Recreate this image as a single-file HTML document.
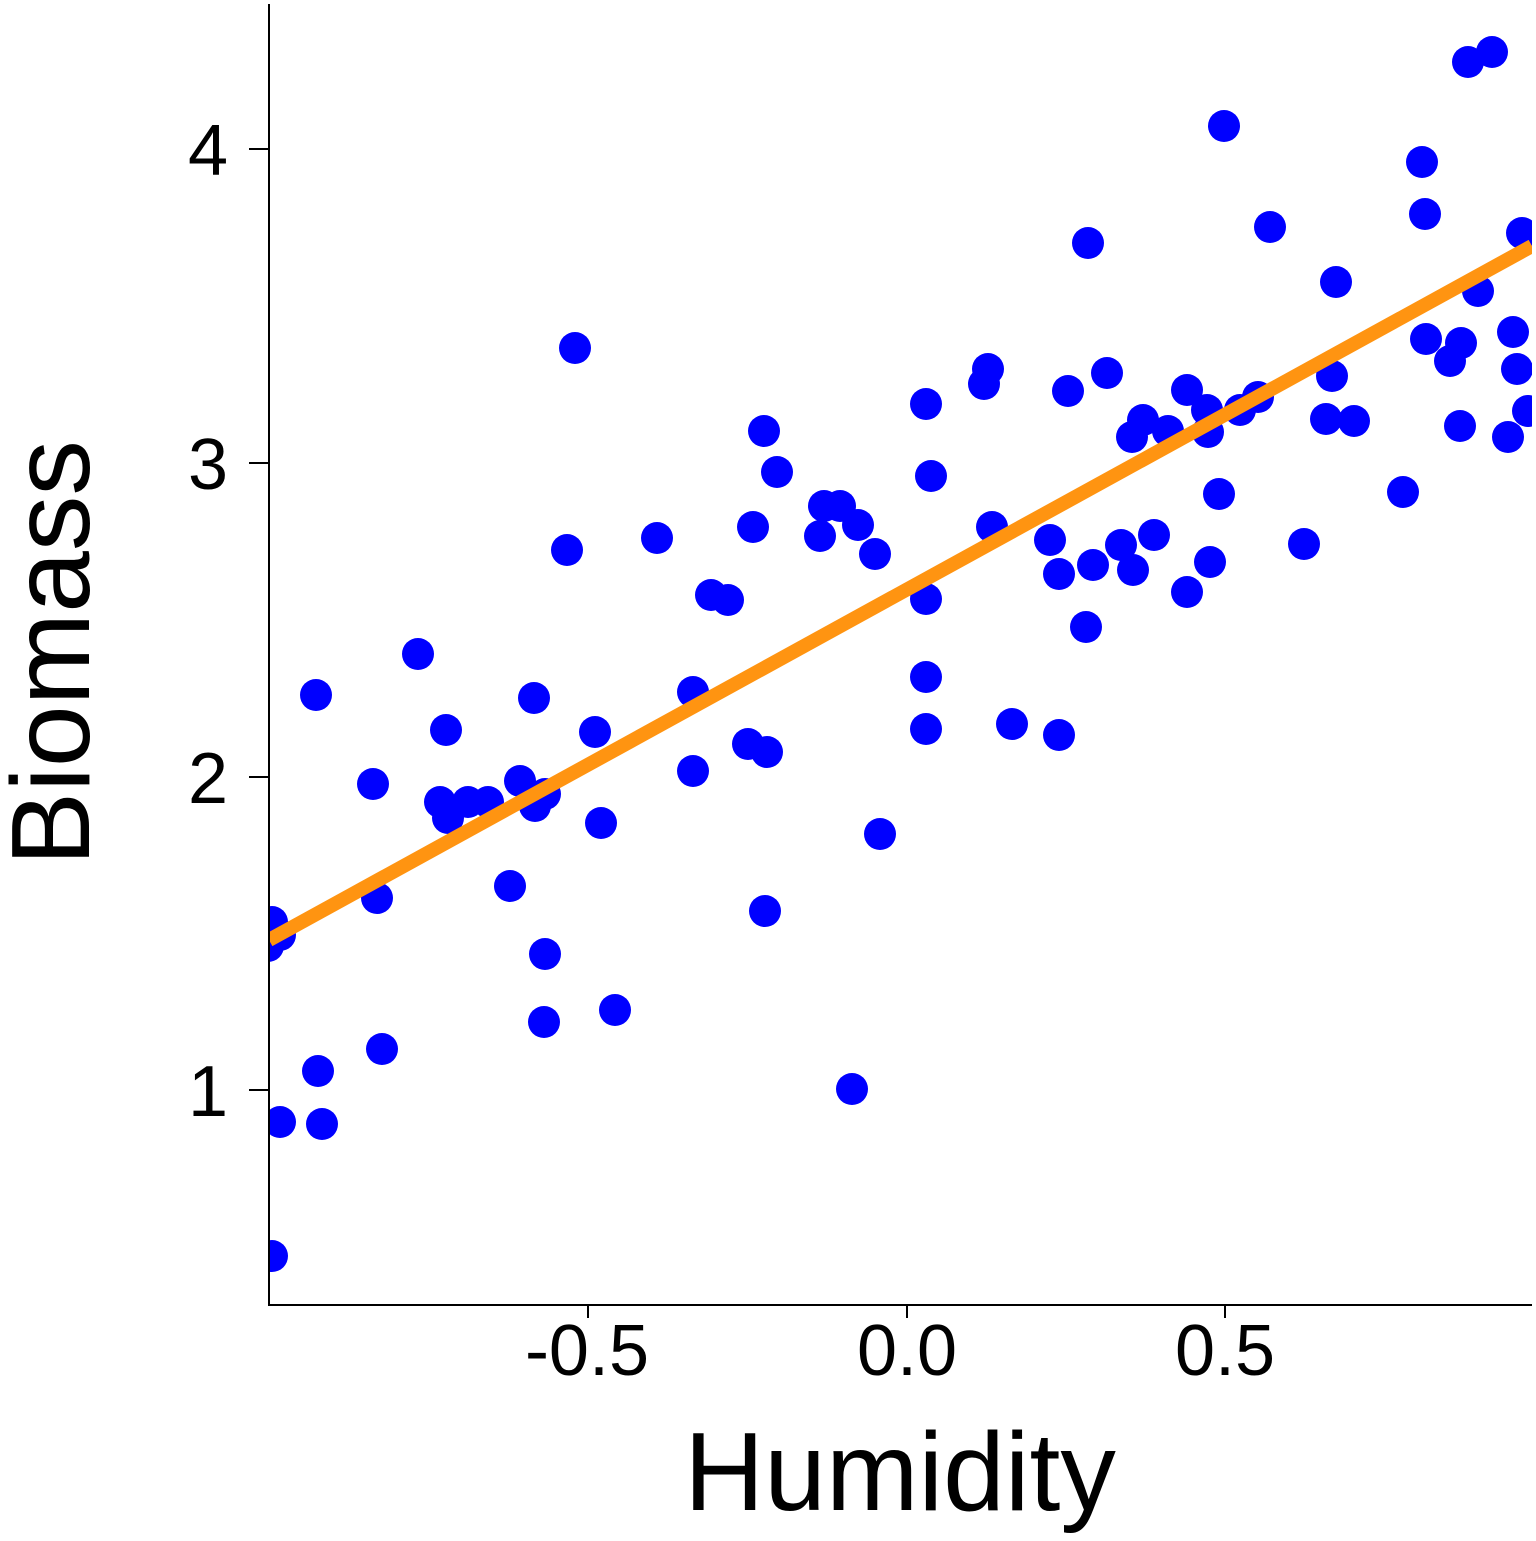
<!DOCTYPE html>
<html><head><style>html,body{margin:0;padding:0;background:#fff}</style></head><body>
<svg width="1536" height="1536" xmlns="http://www.w3.org/2000/svg" font-family="Liberation Sans, Arial, sans-serif">
<defs><clipPath id="c"><rect x="269" y="0" width="1263" height="1305"/></clipPath></defs>
<g clip-path="url(#c)" fill="#0000ff">
<circle cx="272" cy="1256" r="16"/><circle cx="280" cy="1122" r="16"/><circle cx="322" cy="1124" r="16"/><circle cx="318" cy="1071" r="16"/><circle cx="382" cy="1049" r="16"/><circle cx="268" cy="946" r="16"/><circle cx="272" cy="922" r="16"/><circle cx="280" cy="935" r="16"/><circle cx="316" cy="695" r="16"/><circle cx="373" cy="784" r="16"/><circle cx="377" cy="898" r="16"/><circle cx="418" cy="654" r="16"/><circle cx="446" cy="730" r="16"/><circle cx="440" cy="802" r="16"/><circle cx="448" cy="818" r="16"/><circle cx="468" cy="802" r="16"/><circle cx="488" cy="802" r="16"/><circle cx="510" cy="886" r="16"/><circle cx="520" cy="781" r="16"/><circle cx="535" cy="806" r="16"/><circle cx="545" cy="794" r="16"/><circle cx="534" cy="698" r="16"/><circle cx="545" cy="954" r="16"/><circle cx="544" cy="1022" r="16"/><circle cx="567" cy="550" r="16"/><circle cx="575" cy="348" r="16"/><circle cx="595" cy="732" r="16"/><circle cx="601" cy="823" r="16"/><circle cx="615" cy="1010" r="16"/><circle cx="657" cy="538" r="16"/><circle cx="693" cy="692" r="16"/><circle cx="693" cy="771" r="16"/><circle cx="711" cy="595" r="16"/><circle cx="728" cy="600" r="16"/><circle cx="748" cy="744" r="16"/><circle cx="767" cy="752" r="16"/><circle cx="753" cy="527" r="16"/><circle cx="764" cy="431" r="16"/><circle cx="777" cy="472" r="16"/><circle cx="765" cy="911" r="16"/><circle cx="820" cy="536" r="16"/><circle cx="824" cy="506" r="16"/><circle cx="840" cy="506" r="16"/><circle cx="858" cy="525" r="16"/><circle cx="875" cy="554" r="16"/><circle cx="880" cy="834" r="16"/><circle cx="852" cy="1089" r="16"/><circle cx="926" cy="404" r="16"/><circle cx="931" cy="476" r="16"/><circle cx="926" cy="599" r="16"/><circle cx="926" cy="677" r="16"/><circle cx="926" cy="729" r="16"/><circle cx="984" cy="384" r="16"/><circle cx="988" cy="369" r="16"/><circle cx="992" cy="527" r="16"/><circle cx="1012" cy="724" r="16"/><circle cx="1050" cy="540" r="16"/><circle cx="1059" cy="574" r="16"/><circle cx="1059" cy="735" r="16"/><circle cx="1068" cy="391" r="16"/><circle cx="1086" cy="627" r="16"/><circle cx="1088" cy="243" r="16"/><circle cx="1093" cy="565" r="16"/><circle cx="1107" cy="373" r="16"/><circle cx="1121" cy="545" r="16"/><circle cx="1132" cy="437" r="16"/><circle cx="1133" cy="570" r="16"/><circle cx="1143" cy="420" r="16"/><circle cx="1154" cy="535" r="16"/><circle cx="1168" cy="431" r="16"/><circle cx="1187" cy="390" r="16"/><circle cx="1187" cy="592" r="16"/><circle cx="1207" cy="410" r="16"/><circle cx="1208" cy="432" r="16"/><circle cx="1210" cy="562" r="16"/><circle cx="1219" cy="494" r="16"/><circle cx="1224" cy="126" r="16"/><circle cx="1240" cy="410" r="16"/><circle cx="1258" cy="397" r="16"/><circle cx="1270" cy="227" r="16"/><circle cx="1304" cy="544" r="16"/><circle cx="1326" cy="419" r="16"/><circle cx="1332" cy="376" r="16"/><circle cx="1336" cy="282" r="16"/><circle cx="1354" cy="421" r="16"/><circle cx="1403" cy="492" r="16"/><circle cx="1422" cy="162" r="16"/><circle cx="1425" cy="214" r="16"/><circle cx="1426" cy="339" r="16"/><circle cx="1450" cy="361" r="16"/><circle cx="1461" cy="343" r="16"/><circle cx="1460" cy="426" r="16"/><circle cx="1468" cy="62" r="16"/><circle cx="1478" cy="291" r="16"/><circle cx="1492" cy="52" r="16"/><circle cx="1508" cy="437" r="16"/><circle cx="1513" cy="332" r="16"/><circle cx="1517" cy="369" r="16"/><circle cx="1522" cy="233" r="16"/><circle cx="1528" cy="411" r="16"/>
</g>
<line x1="269" y1="940" x2="1532" y2="246" stroke="#ff9411" stroke-width="14" clip-path="url(#c)"/>
<g stroke="#000" stroke-width="2" fill="none">
<polyline points="269,4 269,1305 1532,1305"/>
<line x1="249" y1="149" x2="269" y2="149"/><line x1="249" y1="463" x2="269" y2="463"/><line x1="249" y1="777" x2="269" y2="777"/><line x1="249" y1="1090" x2="269" y2="1090"/>
<line x1="588" y1="1305" x2="588" y2="1318"/><line x1="907" y1="1305" x2="907" y2="1318"/><line x1="1225" y1="1305" x2="1225" y2="1318"/>
</g>
<g font-size="72" fill="#000">
<text x="228" y="175" text-anchor="end">4</text><text x="228" y="489" text-anchor="end">3</text><text x="228" y="803" text-anchor="end">2</text><text x="228" y="1116" text-anchor="end">1</text>
<text x="587" y="1375" text-anchor="middle">-0.5</text><text x="907" y="1375" text-anchor="middle">0.0</text><text x="1225" y="1375" text-anchor="middle">0.5</text>
</g>
<text x="900" y="1510" font-size="111" text-anchor="middle">Humidity</text>
<text transform="translate(89,653) rotate(-90)" font-size="111" text-anchor="middle">Biomass</text>
</svg>
</body></html>
